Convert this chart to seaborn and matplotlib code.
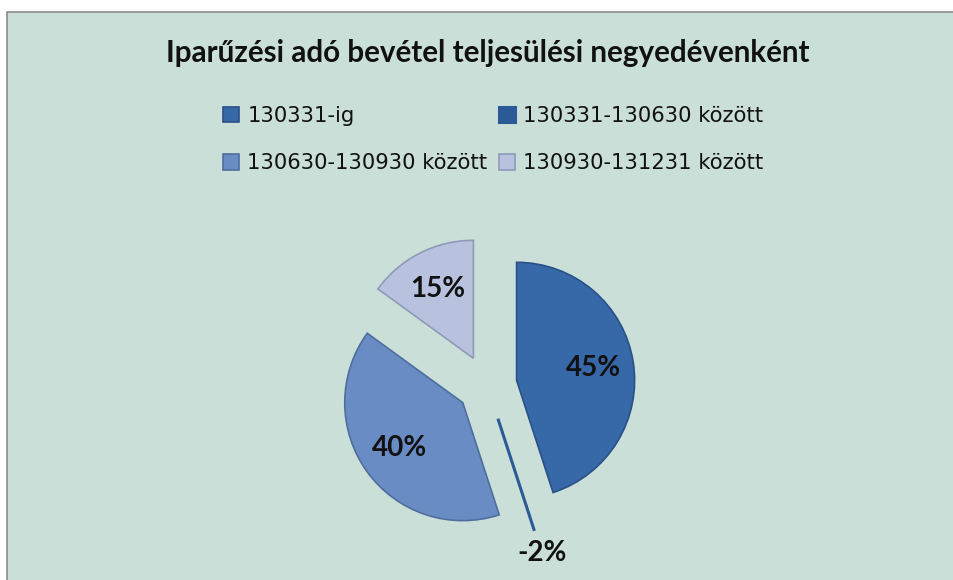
import numpy as np
import matplotlib
matplotlib.use('Agg')
import matplotlib.pyplot as plt
from matplotlib.patches import Rectangle
import seaborn as sns

# Data
labels = ['130331-ig', '130331-130630 között', '130630-130930 között', '130930-131231 között']
values = [45, -2, 40, 15]
title = 'Iparűzési adó bevétel teljesülési negyedévenként'

colors = ['#3768A8', '#2C5A96', '#6A8CC5', '#B8C2DF']
edges = ['#2A5088', '#234A80', '#4E6E9D', '#8E9AB8']

sns.set_theme(style='white')
plt.rcParams['font.family'] = ['DejaVu Sans']

W, H = 954, 580
fig = plt.figure(figsize=(W / 100, H / 100), dpi=100)
fig.patch.set_facecolor('white')

# chart area background with grey border
bg = Rectangle((7.5 / W, -0.02), 1.05, 1 - 12 / H + 0.02, transform=fig.transFigure,
               facecolor='#C9DFD8', edgecolor='#8C8C8C', linewidth=1.2, zorder=-5)
fig.patches.append(bg)

# axes in units of the pie radius (118 px), pie centre at (487, 385) px
R = 118.0
cx, cy = 487.0, 385.0
ax = fig.add_axes([0, 0, 1, 1], zorder=2)
ax.patch.set_alpha(0)

sizes = np.clip(values, 0, None)
explode = [0.254, 0.30, 0.254, 0.254]
wedges, texts, autotexts = ax.pie(
    sizes, explode=explode, colors=colors, startangle=90, counterclock=False,
    radius=1, center=(0, 0), autopct='%d', pctdistance=0.66,
    wedgeprops=dict(linewidth=1.2), normalize=True, frame=False)
ax.set_xlim(-cx / R, (W - cx) / R)
ax.set_ylim(-(H - cy) / R, cy / R)
ax.set_aspect('auto')
ax.axis('off')

for w, ec in zip(wedges, edges):
    w.set_edgecolor(ec)
wedges[1].set_linewidth(2.2)
wedges[1].set_edgecolor('#2C5A96')

for t, v, w in zip(autotexts, values, wedges):
    t.set_text(f'{v}%')
    t.set_fontfamily('Lato')
    t.set_fontweight('bold')
    t.set_fontsize(20)
    t.set_color('#111111')
    if v <= 0:
        ang = np.deg2rad(w.theta1)
        x0, y0 = w.center
        t.set_position((x0 + 1.2 * np.cos(ang), y0 + 1.2 * np.sin(ang)))

fig.text(487.5 / W, 1 - 62 / H, title, ha='center', va='baseline',
         fontsize=21.3, fontweight='bold', family='Lato', color='#111111')

# legend fills column by column, so reorder to get row-wise entries
order = [0, 2, 1, 3]
leg = fig.legend([wedges[i] for i in order], [labels[i] for i in order], ncol=2,
                 loc='upper left', bbox_to_anchor=(223 / W, 1 - 106 / H), frameon=False,
                 prop=dict(family='DejaVu Sans', size=15.2),
                 handlelength=0.75, handleheight=0.75, handletextpad=0.4,
                 columnspacing=0.55, labelspacing=1.3, borderpad=0, borderaxespad=0)
for t in leg.get_texts():
    t.set_color('#111111')

fig.savefig('out.png', dpi=100, facecolor='white')
